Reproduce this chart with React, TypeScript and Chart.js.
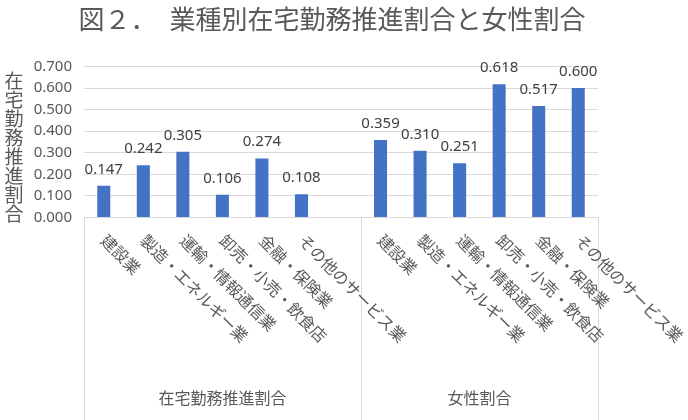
import Chart from 'chart.js/auto';
import { useEffect, useRef } from 'react';

const titleText = '図２．　業種別在宅勤務推進割合と女性割合';
const yTitle = '在宅勤務推進割合';
const industries = [
    '建設業',
    '製造・エネルギー業',
    '運輸・情報通信業',
    '卸売・小売・飲食店',
    '金融・保険業',
    'その他のサービス業',
];
const groupNames = ['在宅勤務推進割合', '女性割合'];
const remoteRates = [0.147, 0.242, 0.305, 0.106, 0.274, 0.108];
const femaleRates = [0.359, 0.31, 0.251, 0.618, 0.517, 0.6];
const yTicks = [0, 0.1, 0.2, 0.3, 0.4, 0.5, 0.6, 0.7];

// one empty slot after the first group, like the source chart
const labels = [...industries, '', ...industries];
const values: (number | null)[] = [...remoteRates, null, ...femaleRates];

const JP = '"Noto Sans CJK JP", "Noto Sans", sans-serif';
const GRAY = '#595959';
const LINE = '#d9d9d9';

const overlay = {
    id: 'overlay',
    afterDraw(chart: any) {
        const { ctx, chartArea, scales } = chart;
        const x = scales.x;
        ctx.save();
        ctx.fillStyle = GRAY;
        ctx.textAlign = 'center';
        ctx.textBaseline = 'middle';

        // title
        ctx.font = `26px ${JP}`;
        ctx.fillText(titleText, 332, 19);

        // stacked vertical axis title
        ctx.font = `19px ${JP}`;
        Array.from(yTitle).forEach((ch, i) => {
            ctx.fillText(ch, 14, 81 + i * 18.9);
        });

        // category boxes under the plot
        const slot = (x.right - x.left) / labels.length;
        const bounds = [x.left, x.left + (industries.length + 1) * slot, x.right];
        ctx.strokeStyle = LINE;
        ctx.lineWidth = 1;
        bounds.forEach((bx) => {
            const px = Math.round(bx) + 0.5;
            ctx.beginPath();
            ctx.moveTo(px, chartArea.bottom);
            ctx.lineTo(px, chart.height);
            ctx.stroke();
        });

        // rotated category labels
        ctx.font = `16px ${JP}`;
        ctx.textAlign = 'left';
        labels.forEach((lab, i) => {
            if (!lab) return;
            const cx = x.getPixelForValue(i);
            ctx.save();
            ctx.translate(cx, chartArea.bottom + 20);
            ctx.rotate(Math.PI / 4);
            ctx.fillText(lab, 0, 0);
            ctx.restore();
        });

        // group labels
        ctx.textAlign = 'center';
        groupNames.forEach((g, i) => {
            ctx.fillText(g, (bounds[i] + bounds[i + 1]) / 2, 398);
        });

        // value labels
        ctx.font = '15px "Noto Sans", sans-serif';
        ctx.fillStyle = '#404040';
        ctx.textBaseline = 'alphabetic';
        const meta = chart.getDatasetMeta(0);
        meta.data.forEach((bar: any, i: number) => {
            const v = values[i];
            if (v === null) return;
            ctx.fillText(v.toFixed(3), bar.x, bar.y - 12);
        });
        ctx.restore();
    },
};

export default function App() {
    const canvasRef = useRef<HTMLCanvasElement>(null);
    useEffect(() => {
        document.body.style.margin = '0';
        if (canvasRef.current === null) return;
        const ctx = canvasRef.current.getContext('2d');
        if (ctx === null) return;
        const chart = new Chart(ctx, {
            type: 'bar',
            data: {
                labels: labels,
                datasets: [{
                    data: values,
                    backgroundColor: '#4472C4',
                    categoryPercentage: 1,
                    barPercentage: 0.33,
                }],
            },
            options: {
                animation: false,
                responsive: true,
                maintainAspectRatio: false,
                layout: {
                    padding: { top: 66.5, right: 90, left: 0, bottom: 0 },
                },
                plugins: {
                    legend: { display: false },
                    tooltip: { enabled: false },
                },
                scales: {
                    x: {
                        ticks: { display: false },
                        grid: { display: false },
                        border: { display: false },
                        afterFit: (scale: any) => { scale.height = 202.5; },
                    },
                    y: {
                        min: 0,
                        max: 0.7,
                        afterBuildTicks: (scale: any) => {
                            scale.ticks = yTicks.map((v) => ({ value: v }));
                        },
                        ticks: {
                            padding: 12,
                            color: GRAY,
                            font: { family: 'Noto Sans', size: 15 },
                            callback: (v: any) => Number(v).toFixed(3),
                        },
                        grid: { color: LINE, drawTicks: false },
                        border: { display: false },
                        afterFit: (scale: any) => { scale.width = 84; },
                    },
                },
            },
            plugins: [overlay],
        });
        return () => {
            chart.destroy();
        };
    }, []);

    return (
        <div style={{ position: 'relative', width: 688, height: 420 }}>
            <canvas ref={canvasRef}></canvas>
        </div>
    );
}
